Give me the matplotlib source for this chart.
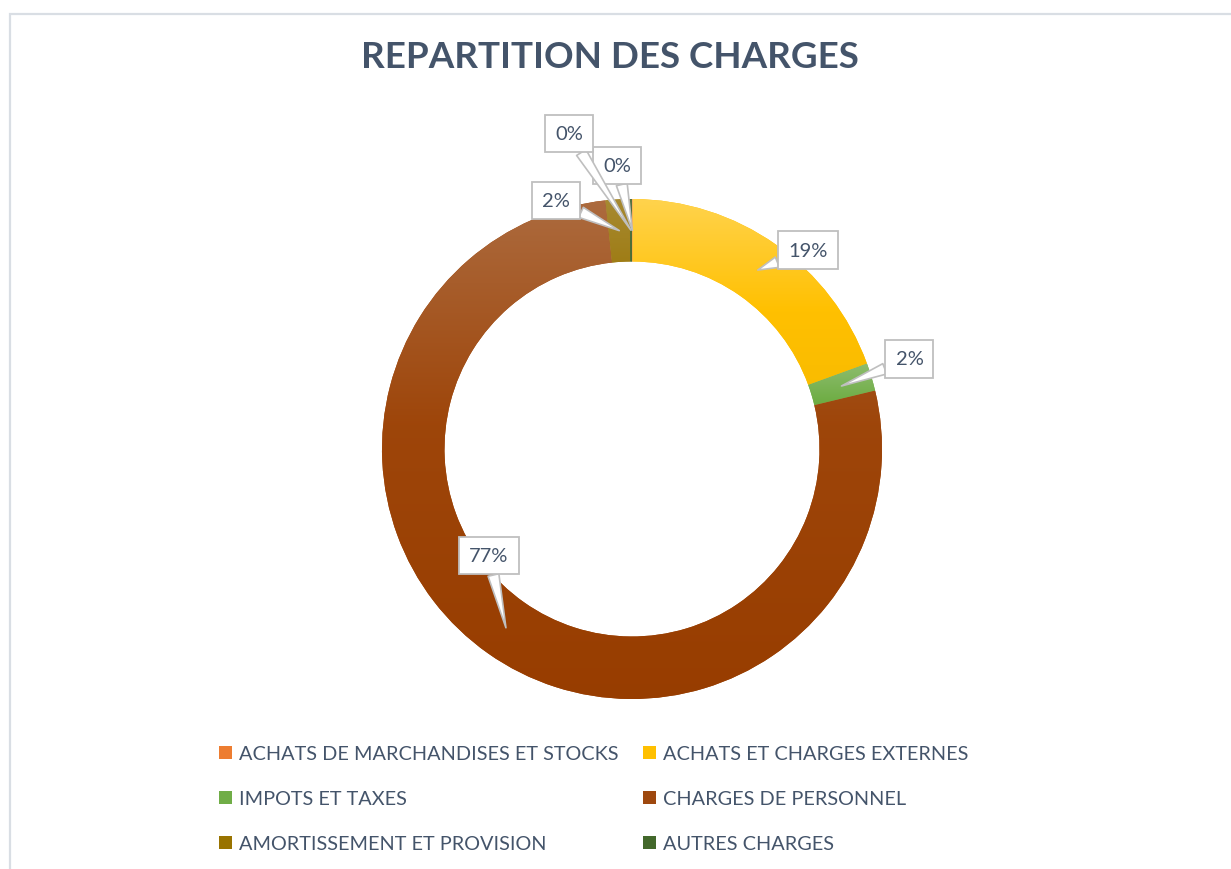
import numpy as np
import matplotlib
matplotlib.use("Agg")
import matplotlib.pyplot as plt
from matplotlib.colors import to_rgb, rgb_to_hsv, hsv_to_rgb
from matplotlib.patches import Rectangle

# ---------------- data ----------------
categories = [
    "ACHATS DE MARCHANDISES ET STOCKS",
    "ACHATS ET CHARGES EXTERNES",
    "IMPOTS ET TAXES",
    "CHARGES DE PERSONNEL",
    "AMORTISSEMENT ET PROVISION",
    "AUTRES CHARGES",
]
shares = [0.05, 19.4, 1.8, 77.05, 1.55, 0.15]   # percent of total
colors = ["#ED7D31", "#FFC000", "#70AD47", "#9E480E", "#997300", "#43682B"]
title = "REPARTITION DES CHARGES"

# label box offsets (pixels) from the slice mid-point
label_offsets = [(-15, 65), (50, 20), (68, 27), (-17, 72), (-63, 30), (-62, 97)]

W, H, DPI = 1231, 870, 100
TXT = "#44546A"
FONT = "Lato"

fig = plt.figure(figsize=(W / DPI, H / DPI), dpi=DPI)
fig.patch.set_facecolor("white")

# outer chart border (partially visible)
border = Rectangle((9.5 / W, -0.05), 1.2, (H - 14.5) / H + 0.05,
                   transform=fig.transFigure, fill=False,
                   edgecolor="#D9DEE4", linewidth=1.6)
fig.add_artist(border)

# title
fig.text(609.5 / W, 1 - 58 / H, title, ha="center", va="center",
         fontsize=26.5, fontweight="bold", color=TXT, family=FONT)

# donut axes: center at (632, 450) px, 600x600 px box, 250 px per unit
cx, cy, side = 632, 450, 600
ax = fig.add_axes([(cx - side / 2) / W, (H - cy - side / 2) / H, side / W, side / H])
ax.axis("off")

wedges, _ = ax.pie(shares, colors=colors, startangle=90, counterclock=False,
                   radius=1.0, wedgeprops=dict(width=0.25, edgecolor="none",
                                               linewidth=0))


def grad_stops(col):
    h, s, v = rgb_to_hsv(np.array(to_rgb(col)))
    top = hsv_to_rgb([h, s * 0.70, min(1.0, v * 1.09)])
    mid = hsv_to_rgb([h, min(1.0, s * 1.03), v])
    bot = hsv_to_rgb([h, min(1.0, s * 1.1), v * 0.96])
    return top, mid, bot


# vertical gradient overlay per slice (lighter at top)
n = 256
tt = np.linspace(0, 1, n)
for w, col in zip(wedges, colors):
    top, mid, bot = grad_stops(col)
    img = np.empty((n, 1, 3))
    for k in range(3):
        img[:, 0, k] = np.interp(tt, [0, 0.45, 1], [top[k], mid[k], bot[k]])
    v = w.get_path().vertices
    x0, x1 = v[:, 0].min(), v[:, 0].max()
    y0, y1 = v[:, 1].min(), v[:, 1].max()
    if x1 - x0 < 1e-4:
        x1 = x0 + 1e-4
    im = ax.imshow(img, extent=(x0, x1, y0, y1), origin="upper",
                   aspect="auto", interpolation="bilinear", zorder=w.get_zorder() + 0.1)
    im.set_clip_path(w)

ax.set_xlim(-1.2, 1.2)
ax.set_ylim(-1.2, 1.2)
ax.set_aspect("equal")

# data labels with callouts
total = sum(shares)
cum = 0.0
for val, off in zip(shares, label_offsets):
    midp = cum + val / 2
    cum += val
    ang = np.deg2rad(90 - 360 * midp / total)
    r = 0.875
    tip = (r * np.cos(ang), r * np.sin(ang))
    ax.annotate(f"{100 * val / total:.0f}%", xy=tip, xytext=off,
                textcoords="offset pixels", ha="center", va="center",
                fontsize=14.5, color=TXT, family=FONT, zorder=10,
                bbox=dict(boxstyle="square,pad=0.5", fc="white",
                          ec="#BFBFBF", lw=1.3),
                arrowprops=dict(arrowstyle="wedge,tail_width=0.55,shrink_factor=0.5",
                                fc="white", ec="#BFBFBF", lw=1.2,
                                shrinkA=0, shrinkB=0))

# legend (row-wise, two columns)
col_x = [219, 643]
row_y = [753, 798, 843]
sq = 13
for i, (lab, col) in enumerate(zip(categories, colors)):
    c, r = i % 2, i // 2
    x, y = col_x[c], row_y[r]
    fig.add_artist(Rectangle((x / W, (H - y - sq / 2) / H), sq / W, sq / H,
                             transform=fig.transFigure, facecolor=col,
                             edgecolor="none"))
    fig.text((x + sq + 7) / W, 1 - y / H, lab, ha="left", va="center_baseline",
             fontsize=14.3, color=TXT, family=FONT)

fig.savefig("out.png", dpi=DPI, facecolor="white")
